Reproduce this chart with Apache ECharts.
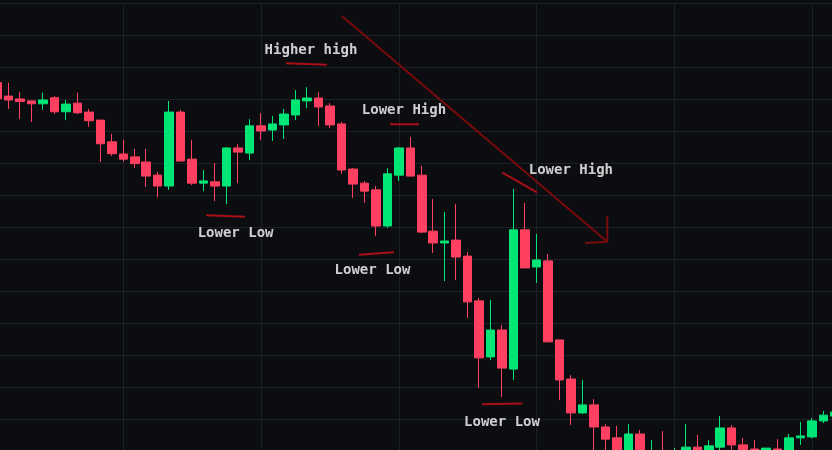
<!DOCTYPE html>
<html>
<head>
<meta charset="utf-8">
<script src="https://cdn.jsdelivr.net/npm/echarts@6/dist/echarts.min.js"></script>
<style>
  html, body { margin: 0; padding: 0; background: #0c0d11; }
  #chart { width: 832px; height: 450px; }
</style>
</head>
<body>
<div id="chart"></div>
<script>
// candle data, index 0 is the half-hidden one on the left edge
const opens  = [215.2,211.0,210.1,209.5,208.6,210.5,206.1,208.8,206.0,203.5,196.7,192.9,192.0,190.4,186.3,182.9,206.0,191.3,183.8,184.2,
                182.9,194.8,193.2,201.7,200.4,202.0,205.1,209.5,210.4,207.9,202.3,188.2,183.8,181.7,170.4,186.3,194.8,186.3,168.8,165.1,
                166.0,161.0,147.0,129.5,137.9,125.7,169.2,157.6,159.5,134.8,122.6,112.0,114.5,107.6,104.2,98.8,105.4,97.0,99.8,96.0,
                97.5,101.3,99.0,101.3,107.3,102.0,100.7,98.5,100.7,99.8,104.2,104.5,109.5,111.0];
const closes = [210.2,209.8,209.3,208.6,209.8,206.1,208.5,205.8,203.3,196.1,193.0,191.3,189.9,186.0,182.9,206.0,190.7,183.8,184.5,182.9,
                194.8,193.5,201.7,200.1,202.3,205.4,209.8,210.4,207.6,202.0,187.9,183.5,181.3,170.4,186.7,194.8,186.0,168.5,165.1,165.7,
                160.7,146.7,129.2,137.9,126.0,169.2,157.3,159.8,134.2,122.3,112.0,114.5,107.6,103.8,98.8,105.4,99.8,99.8,97.0,99.5,
                101.3,98.5,101.7,107.3,102.0,99.8,99.0,101.0,98.8,104.2,104.8,109.5,111.3,112.3];
const lows   = [209.5,207.0,203.8,202.9,206.7,205.4,203.5,205.4,201.4,190.4,192.3,190.5,188.6,182.6,179.3,181.7,190.7,183.2,181.3,178.2,
                177.3,183.8,191.0,197.3,197.0,197.6,203.5,207.3,201.7,201.0,186.7,179.2,177.6,167.3,169.8,184.5,186.0,168.2,162.0,153.2,
                153.5,141.7,119.8,128.5,117.0,122.3,157.3,152.6,134.2,116.0,108.2,111.7,98.8,94.2,96.7,97.3,97.9,95.5,95.0,94.5,
                96.0,97.0,97.5,99.5,100.5,98.5,97.5,97.0,97.5,98.5,102.0,104.0,108.8,110.5];
const highs  = [216.0,215.2,212.3,209.5,212.1,211.0,209.8,212.1,207.0,203.5,199.2,197.3,194.5,194.5,187.3,209.5,206.7,197.3,187.9,190.1,
                195.1,196.0,203.8,205.7,204.8,207.0,212.9,213.8,212.3,208.8,202.9,188.5,184.5,182.9,188.5,195.1,198.2,189.2,178.8,174.8,
                177.3,162.3,147.9,147.3,139.5,182.0,177.6,167.9,161.7,134.8,123.8,122.3,116.3,108.5,107.9,108.5,106.7,103.5,106.3,101.0,
                108.5,105.1,103.5,111.0,108.2,104.2,103.5,101.0,103.8,105.4,109.2,110.4,112.6,113.2];

// hand-drawn notes, in [candle index, price]
const trendLine  = [[30.03, 236.0], [53.16, 165.5]];
const arrowHead  = [[53.16, 173.5], [53.16, 165.5], [51.22, 165.1]];
const swingMarks = [
  [[25.17, 221.3], [28.72, 220.8]],
  [[34.23, 202.2], [36.76, 202.2]],
  [[44.02, 187.1], [47.04, 180.9]],
  [[18.21, 173.8], [21.60, 173.3]],
  [[31.53, 161.4], [34.58, 162.2]],
  [[42.25, 114.7], [45.76, 114.9]]
];
const noteTexts  = ['Higher high', 'Lower High', 'Lower High', 'Lower Low', 'Lower Low', 'Lower Low'];
const notePos    = [[27.35, 225.2], [35.45, 206.5], [49.99, 187.7], [20.78, 168.1], [32.71, 156.5], [43.99, 109.0]];

const categories = opens.map((v, i) => String(i));
const candles = opens.map((o, i) => [o, closes[i], lows[i], highs[i]]);

const upColor = '#00e676';
const downColor = '#ff4060';
const gridColor = '#1d2027';

const series = [{
  type: 'candlestick',
  data: candles,
  barWidth: 9,
  itemStyle: {
    color: upColor,
    color0: downColor,
    borderColor: upColor,
    borderColor0: downColor,
    borderWidth: 1
  }
}];

function segment(points, color) {
  return {
    type: 'line',
    xAxisIndex: 1,
    data: points,
    symbol: 'none',
    silent: true,
    lineStyle: { color: color, width: 2 }
  };
}

series.push(segment(trendLine, '#7a0b0b'));
series.push(segment(arrowHead, '#7a0b0b'));
swingMarks.forEach(m => series.push(segment(m, '#a80f16')));

series.push({
  type: 'scatter',
  xAxisIndex: 1,
  symbolSize: 0,
  silent: true,
  data: notePos.map((p, i) => ({ value: p, name: noteTexts[i] })),
  label: {
    show: true,
    position: 'inside',
    formatter: '{b}',
    color: '#ffffff',
    textBorderWidth: 0,
    textBorderColor: 'transparent',
    fontFamily: 'DejaVu Sans Mono',
    fontWeight: 'bold',
    fontSize: 14
  }
});

const option = {
  backgroundColor: '#0c0d11',
  animation: false,
  grid: { left: -3, top: 3.3, width: 838.04, height: 480, outerBoundsMode: 'none' },
  xAxis: [{
    type: 'category',
    data: categories,
    boundaryGap: false,
    axisLine: { show: false },
    axisTick: { show: false },
    axisLabel: { show: false },
    splitLine: {
      show: true,
      interval: (idx) => idx % 12 === 11,
      lineStyle: { color: gridColor, width: 1 }
    }
  }, {
    type: 'value',
    min: 0,
    max: opens.length - 1,
    show: false
  }],
  yAxis: {
    type: 'value',
    min: 90,
    max: 240,
    interval: 10,
    axisLine: { show: false },
    axisTick: { show: false },
    axisLabel: { show: false },
    splitLine: { lineStyle: { color: gridColor, width: 1 } }
  },
  series: series
};

const chart = echarts.init(document.getElementById('chart'));
chart.setOption(option);
</script>
</body>
</html>
